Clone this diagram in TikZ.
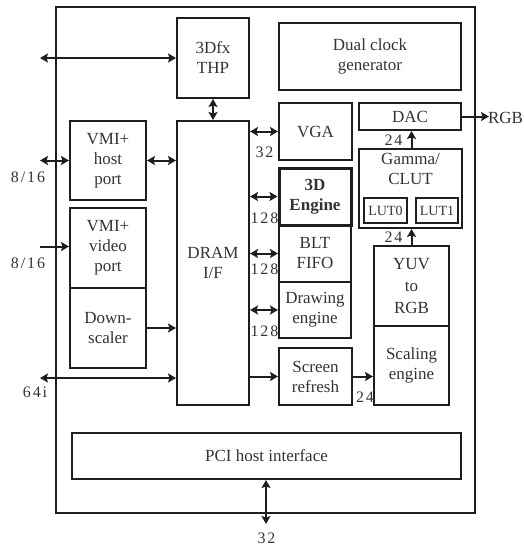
\documentclass[tikz,border=0pt]{standalone}
\usepackage{fontspec}
\setmainfont{Liberation Serif}
\newfontfamily\numfont[LetterSpace=12]{Liberation Serif}
\usetikzlibrary{arrows.meta}
\definecolor{ink}{HTML}{1E1E1E}
\definecolor{txt}{HTML}{333333}
\begin{document}
\begin{tikzpicture}[x=1pt,y=-1pt,
  box/.style={draw=ink,line width=2pt,inner sep=0pt,align=center,text=txt,
    font=\fontsize{17}{20}\selectfont},
  lbl/.style={text=txt,inner sep=0pt,font=\fontsize{16}{18}\selectfont\numfont},
  tip/.tip={Stealth[length=8pt,width=9pt,inset=1.5pt]},
  conn/.style={draw=ink,line width=2pt,-tip},
  dconn/.style={draw=ink,line width=2pt,tip-tip}]
\useasboundingbox (0,0) rectangle (523,546);
\draw[ink,line width=2pt] (56,7) rectangle (475,513);
% boxes
\node[box,minimum width=72pt,minimum height=80pt] (thp) at (213,58) {3Dfx\\THP};
\node[box,minimum width=182pt,minimum height=67pt] (clk) at (370,56.5) {Dual clock\\generator};
\node[box,minimum width=73pt,minimum height=57pt] (vga) at (315.5,131.5) {VGA};
\node[box,minimum width=102pt,minimum height=27pt] (dac) at (410,116.5) {DAC};
\node[box,minimum width=76pt,minimum height=79pt] (host) at (108,160.5) {VMI+\\host\\port};
\node[box,minimum width=72pt,minimum height=284pt] (dram) at (213,263) {DRAM\\I/F};
\node[box,minimum width=76pt,minimum height=80pt] (video) at (108,248) {VMI+\\video\\port};
\node[box,minimum width=76pt,minimum height=80pt] (down) at (108,328) {Down-\\scaler};
\node[box,minimum width=72pt,minimum height=56pt] (blt) at (315,253.5) {BLT\\FIFO};
\node[box,minimum width=72pt,minimum height=56pt] (draw) at (315,310) {Drawing\\engine};
\node[box,line width=3pt,minimum width=72pt,minimum height=57pt,font=\fontsize{17}{20}\selectfont\bfseries] (eng) at (315,196.5) {3D\\Engine};
\node[box,minimum width=73pt,minimum height=57pt] (scr) at (315.5,376.5) {Screen\\refresh};
\node[box,minimum width=103pt,minimum height=79pt] (gamma) at (410.5,188.5) {};
\node[text=txt,align=center,inner sep=0pt,font=\fontsize{17}{20}\selectfont,anchor=north] (gtext) at (410.5,153) {Gamma/\\CLUT};
\node[box,minimum width=43pt,minimum height=25pt,font=\fontsize{14}{16}\selectfont] (lut0) at (385.5,210.5) {LUT0};
\node[box,minimum width=42pt,minimum height=25pt,font=\fontsize{14}{16}\selectfont] (lut1) at (437,210.5) {LUT1};
\node[box,minimum width=75pt,minimum height=80pt] (yuv) at (411.5,286) {YUV\\[2pt]to\\[2pt]RGB};
\node[box,minimum width=75pt,minimum height=79pt] (scal) at (411.5,365.5) {Scaling\\engine};
\node[box,minimum width=389pt,minimum height=46pt] (pci) at (266.5,456) {PCI host interface};
% external coordinates
\coordinate (e1) at (40,58);
\coordinate (e2) at (40,160.5);
\coordinate (e3) at (40,246.5);
\coordinate (e4) at (40,378);
\coordinate (e5) at (489,116.5);
\coordinate (e6) at (266,524);
% connectors
\draw[dconn] (e1) -- (e1 -| thp.west);
\draw[dconn] (thp.south) -- (dram.north);
\draw[dconn] (e2) -- (host.west);
\draw[dconn] (host.east) -- (host.east -| dram.west);
\draw[conn] (e3) -- (e3 -| video.west);
\draw[conn] (down.east) -- (down.east -| dram.west);
\draw[dconn] (e4) -- (e4 -| dram.west);
\draw[dconn] (vga.west -| dram.east) -- (vga.west);
\draw[dconn] (eng.west -| dram.east) -- (eng.west);
\draw[dconn] (blt.west -| dram.east) -- (blt.west);
\draw[dconn] (draw.west -| dram.east) -- (draw.west);
\draw[conn] (scr.west -| dram.east) -- (scr.west);
\draw[conn] (scr.east) -- (scr.east -| scal.west);
\draw[conn] (yuv.north) -- (yuv.north |- gamma.south);
\draw[conn] (gamma.north -| yuv.north) -- (yuv.north |- dac.south);
\draw[conn] (dac.east) -- (e5);
\draw[dconn] (pci.south -| e6) -- (e6);
% labels
\node[lbl] (l1) at (28,177) {8/16};
\node[lbl] (l2) at (28,263) {8/16};
\node[lbl] (l3) at (35,392) {64i};
\node[lbl] (l4) at (264.5,152) {32};
\node[lbl] (l5) at (264.5,218) {128};
\node[lbl] (l6) at (264.5,269) {128};
\node[lbl] (l7) at (264.5,331) {128};
\node[lbl] (l8) at (393.5,140) {24};
\node[lbl] (l9) at (393.5,237) {24};
\node[lbl] (l10) at (365,397) {24};
\node[lbl] (l11) at (266.5,538) {32};
\node[text=txt,inner sep=0pt,font=\fontsize{17}{20}\selectfont] (rgb) at (505.5,117.5) {RGB};
\end{tikzpicture}
\end{document}
